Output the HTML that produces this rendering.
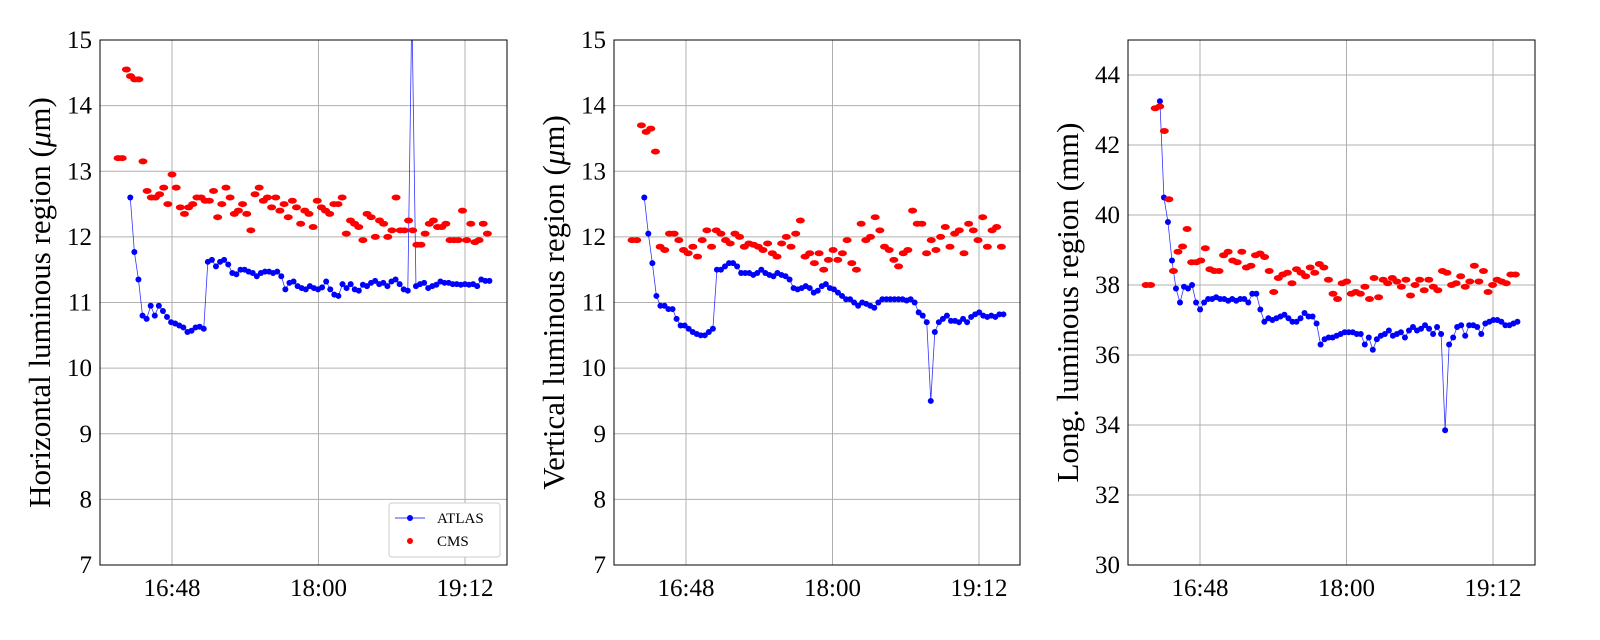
<!DOCTYPE html>
<html><head><meta charset="utf-8"><style>
body{margin:0;background:#fff;}
svg{display:block;font-family:"Liberation Serif",serif;}
</style></head><body>
<svg id="chart" width="1600" height="640" viewBox="0 0 1600 640"></svg>
<script>
// x values: minutes after 16:00 (start/end of each series)
const xTickLabels = ["16:48","18:00","19:12"];
const xTickValues = [48,120,192];
const p1Atlas = [12.6,11.77,11.35,10.8,10.75,10.95,10.8,10.95,10.87,10.78,10.7,10.68,10.65,10.62,10.55,10.57,10.62,10.63,10.6,11.62,11.65,11.55,11.62,11.65,11.58,11.45,11.43,11.5,11.5,11.47,11.45,11.4,11.45,11.47,11.47,11.45,11.47,11.4,11.2,11.3,11.32,11.25,11.22,11.2,11.25,11.22,11.2,11.23,11.32,11.2,11.12,11.1,11.28,11.22,11.28,11.2,11.18,11.27,11.25,11.3,11.33,11.28,11.3,11.25,11.32,11.35,11.28,11.2,11.18,15.5,11.25,11.28,11.3,11.22,11.25,11.27,11.32,11.3,11.3,11.28,11.28,11.27,11.28,11.27,11.28,11.25,11.35,11.33,11.33];
const p1Cms = [13.2,13.2,14.55,14.45,14.4,14.4,13.15,12.7,12.6,12.6,12.65,12.75,12.5,12.95,12.75,12.45,12.35,12.45,12.5,12.6,12.6,12.55,12.55,12.7,12.3,12.5,12.75,12.6,12.35,12.4,12.5,12.35,12.1,12.65,12.75,12.55,12.6,12.45,12.6,12.4,12.5,12.3,12.55,12.45,12.2,12.4,12.35,12.15,12.55,12.45,12.4,12.35,12.5,12.5,12.6,12.05,12.25,12.2,12.15,11.95,12.35,12.3,12.0,12.25,12.2,12.0,12.1,12.6,12.1,12.1,12.25,12.1,11.88,11.88,12.05,12.2,12.25,12.15,12.15,12.2,11.95,11.95,11.95,12.4,11.95,12.2,11.92,11.95,12.2,12.05];
const p2Atlas = [12.6,12.05,11.6,11.1,10.95,10.95,10.9,10.9,10.75,10.65,10.65,10.6,10.55,10.52,10.5,10.5,10.55,10.6,11.5,11.5,11.55,11.6,11.6,11.55,11.45,11.45,11.45,11.42,11.45,11.5,11.45,11.42,11.4,11.45,11.42,11.4,11.35,11.22,11.2,11.22,11.25,11.22,11.15,11.18,11.25,11.28,11.22,11.2,11.15,11.1,11.05,11.05,11.0,10.95,11.0,10.98,10.95,10.92,11.0,11.05,11.05,11.05,11.05,11.05,11.05,11.03,11.05,11.0,10.85,10.8,10.7,9.5,10.55,10.7,10.75,10.8,10.72,10.72,10.7,10.75,10.7,10.78,10.82,10.85,10.8,10.78,10.8,10.78,10.82,10.82];
const p2Cms = [11.95,11.95,13.7,13.6,13.65,13.3,11.85,11.8,12.05,12.05,11.95,11.8,11.75,11.85,11.7,11.95,12.1,11.85,12.1,12.05,11.95,11.9,12.05,12.0,11.85,11.9,11.88,11.85,11.8,11.9,11.75,11.7,11.9,12.0,11.85,12.05,12.25,11.7,11.75,11.6,11.75,11.5,11.65,11.8,11.65,11.75,11.95,11.6,11.5,12.2,11.95,12.0,12.3,12.1,11.85,11.8,11.65,11.55,11.75,11.8,12.4,12.2,12.2,11.75,11.95,11.8,12.0,12.15,11.85,12.05,12.1,11.75,12.2,12.1,11.95,12.3,11.85,12.1,12.15,11.85];
const p3Atlas = [43.25,40.5,39.8,38.7,37.9,37.5,37.95,37.9,38.0,37.5,37.3,37.5,37.6,37.6,37.65,37.6,37.6,37.55,37.6,37.55,37.6,37.6,37.5,37.75,37.75,37.3,36.95,37.05,37.0,37.05,37.1,37.15,37.05,36.95,36.95,37.05,37.2,37.1,37.1,36.9,36.3,36.45,36.5,36.5,36.55,36.6,36.65,36.65,36.65,36.6,36.6,36.3,36.5,36.15,36.45,36.55,36.6,36.7,36.55,36.6,36.65,36.5,36.7,36.8,36.7,36.75,36.85,36.75,36.6,36.8,36.6,33.85,36.3,36.5,36.8,36.85,36.55,36.85,36.85,36.8,36.6,36.9,36.95,37.0,37.0,36.95,36.85,36.85,36.9,36.95];
const p3Cms = [38.0,38.0,43.05,43.1,42.4,40.45,38.4,38.95,39.1,39.6,38.65,38.65,38.7,39.05,38.45,38.4,38.4,38.85,38.95,38.7,38.65,38.95,38.5,38.55,38.85,38.9,38.8,38.4,37.8,38.2,38.3,38.35,38.05,38.45,38.35,38.25,38.5,38.35,38.6,38.5,38.15,37.75,37.6,38.05,38.1,37.75,37.8,37.75,37.95,37.6,38.2,37.65,38.15,38.05,38.2,38.1,37.95,38.15,37.7,38.0,38.15,37.85,38.15,37.95,37.85,38.4,38.35,38.0,38.05,38.25,37.95,38.1,38.55,38.1,38.4,37.8,38.0,38.15,38.1,38.05,38.3,38.3];
const atlasSpan = [27.5,204];
const cmsSpan = [21.5,203];
const atlasSpan3 = [28.3,204];
const cmsSpan3 = [21.5,203];

const NS="http://www.w3.org/2000/svg";
const svg=document.getElementById('chart');
function mk(tag,attrs,parent){const e=document.createElementNS(NS,tag);for(const k in attrs)e.setAttribute(k,attrs[k]);(parent||svg).appendChild(e);return e;}

function panel(idx,left,right,ymin,ymax,ystep,title,atlas,cms,aSpan,cSpan,legend){
  const top=40,bottom=565;
  const g=mk('g',{});
  
  
  const xpx=t=>left+72+(t-48)*(146.5/72);
  const ypx=v=>bottom-(v-ymin)/(ymax-ymin)*(bottom-top);
  const cid='clip'+idx;
  const cp=mk('clipPath',{id:cid},g);mk('rect',{x:left,y:top,width:right-left,height:bottom-top},cp);
  for(let v=ymin;v<=ymax+1e-9;v+=ystep){
    const y=ypx(v);
    const gl=mk('line',{x1:left,x2:right,y1:y,y2:y,stroke:'#b0b0b0','stroke-width':1},g);
    
    
    const t=mk('text',{x:left-8,y:y+8,'text-anchor':'end','font-size':25},g);
    t.textContent=String(Math.round(v));
    
    
  }
  xTickValues.forEach((tv,i)=>{
    const x=xpx(tv);
    const gl=mk('line',{x1:x,x2:x,y1:top,y2:bottom,stroke:'#b0b0b0','stroke-width':1},g);
    
    
    const t=mk('text',{x:x,y:bottom+31,'text-anchor':'middle','font-size':25},g);
    t.textContent=xTickLabels[i];
    
    
  });
  const data=mk('g',{'clip-path':'url(#'+cid+')'},g);
  const na=atlas.length;
  const pts=atlas.map((v,i)=>[xpx(aSpan[0]+i*(aSpan[1]-aSpan[0])/(na-1)),ypx(v)]);
  const line=mk('polyline',{points:pts.map(p=>p.join(',')).join(' '),fill:'none',stroke:'#0000ff','stroke-width':0.8,'stroke-opacity':0.8},data);
  
  
  pts.forEach(p=>{
    const c=mk('circle',{cx:p[0],cy:p[1],r:3,fill:'#0000ff'},data);
    
    
  });
  const nc=cms.length;
  cms.forEach((v,i)=>{
    const x=xpx(cSpan[0]+i*(cSpan[1]-cSpan[0])/(nc-1));
    const c=mk('ellipse',{cx:x,cy:ypx(v),rx:4.5,ry:3,fill:'#ff0000'},data);
    
    
  });
  const fr=mk('rect',{x:left,y:top,width:right-left,height:bottom-top,fill:'none',stroke:'#000','stroke-width':1},g);
  
  
  const cy=(top+bottom)/2, tx=left-50;
  const tt=mk('text',{x:tx,y:cy,'text-anchor':'middle','font-size':31,transform:'rotate(-90 '+tx+' '+cy+')'},g);
  tt.innerHTML=title;
  
  
  if(legend){
    const lg=mk('g',{},g);
    
    
    mk('rect',{x:389,y:503,width:111,height:54,rx:3,fill:'#fff',stroke:'#ccc'},lg);
    mk('line',{x1:395,x2:425,y1:518,y2:518,stroke:'#0000ff','stroke-width':0.8},lg);
    mk('circle',{cx:410,cy:518,r:3,fill:'#0000ff'},lg);
    const a=mk('text',{x:437,y:523,'font-size':15},lg);a.textContent='ATLAS';
    
    
    mk('circle',{cx:410,cy:541,r:3,fill:'#ff0000'},lg);
    const b=mk('text',{x:437,y:546,'font-size':15},lg);b.textContent='CMS';
    
    
  }
}
panel(1,100,507,7,15,1,'Horizontal luminous region (<tspan font-style="italic">μ</tspan>m)',p1Atlas,p1Cms,atlasSpan,cmsSpan,true);
panel(2,614,1020,7,15,1,'Vertical luminous region (<tspan font-style="italic">μ</tspan>m)',p2Atlas,p2Cms,atlasSpan,cmsSpan,false);
panel(3,1128,1535,30,45,2,'Long. luminous region (mm)',p3Atlas,p3Cms,atlasSpan3,cmsSpan3,false);
</script>
</body></html>
